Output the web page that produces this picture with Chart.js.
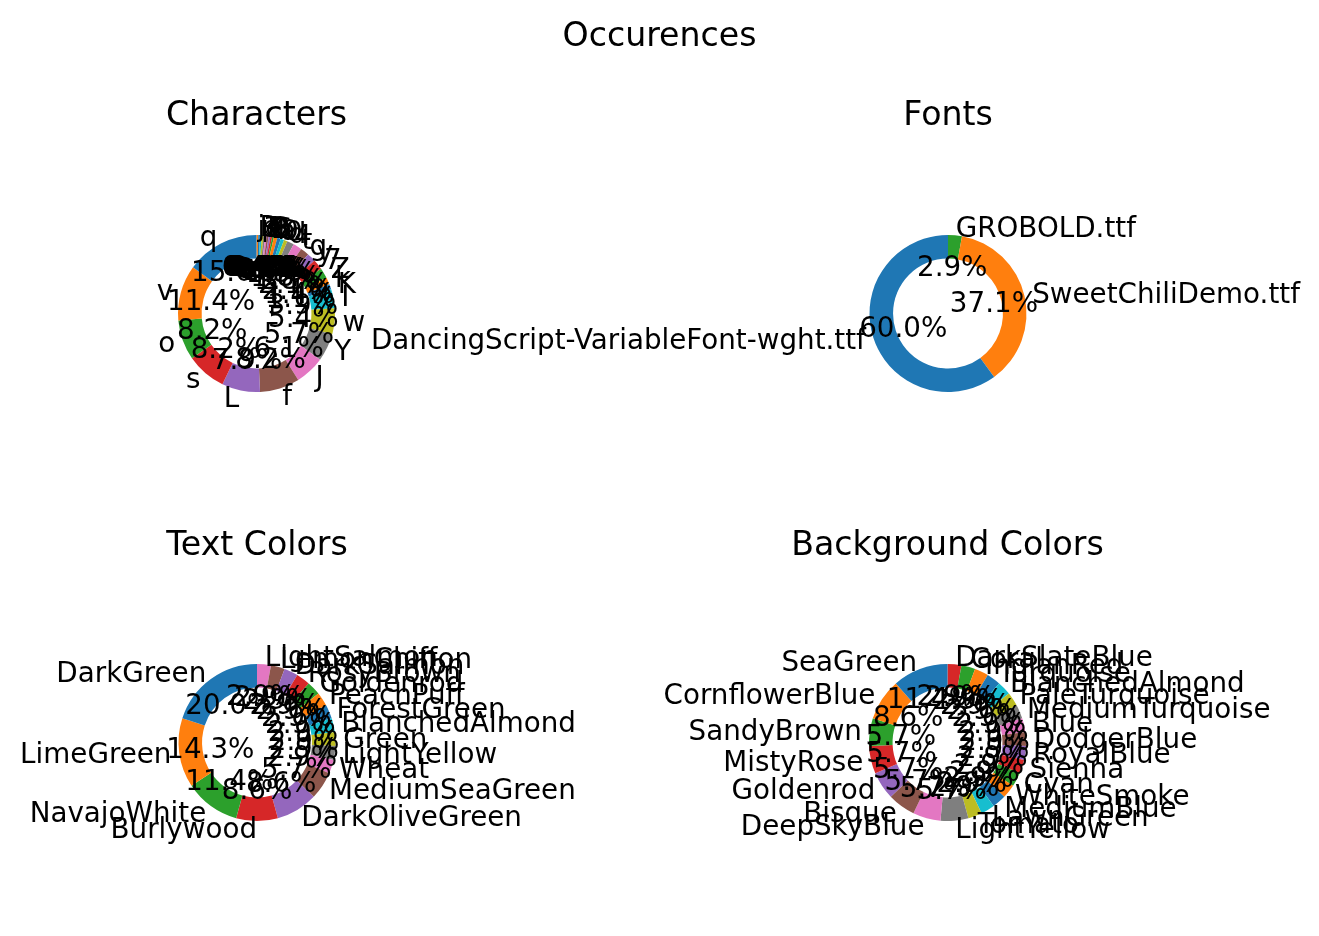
<!DOCTYPE html>
<html>
<head>
<meta charset="utf-8">
<script src="https://cdn.jsdelivr.net/npm/chart.js@4.4.1/dist/chart.umd.min.js"></script>
<style>
html,body{margin:0;padding:0;background:#ffffff;}
#wrap{position:relative;width:1319px;height:936px;overflow:hidden;}
canvas{position:absolute;left:0;top:0;}
</style>
</head>
<body>
<div id="wrap">
<canvas id="c0" width="1319" height="936"></canvas>
<canvas id="c1" width="1319" height="936"></canvas>
<canvas id="c2" width="1319" height="936"></canvas>
<canvas id="c3" width="1319" height="936"></canvas>
</div>
<script>
// ---------- data ----------
const suptitle = "Occurences";
const titles = ["Characters", "Fonts", "Text Colors", "Background Colors"];

const charLabels = ["q","v","o","s","L","f","J","Y","w","I",
  "K","k","Z","7","y","g","t","4","d","0","9","b",
  "6","8","B","C","D","e","3","p","R","j"];
const charCounts = [42,32,23,23,22,23,17,16,15,11,
  3,4,6,6,5,5,5,4,2,2,2,2,
  1,1,1,1,1,1,1,1,1,1];

const fontLabels = ["DancingScript-VariableFont-wght.ttf", "SweetChiliDemo.ttf", "GROBOLD.ttf"];
const fontCounts = [21, 13, 1];

const textColorLabels = ["DarkGreen","LimeGreen","NavajoWhite","Burlywood","DarkOliveGreen",
  "MediumSeaGreen","Wheat","LightYellow","Green","BlanchedAlmond","ForestGreen","PeachPuff",
  "Goldenrod","RosyBrown","DarkSalmon","LemonChiffon","LightSalmon"];
const textColorCounts = [7,5,4,3,3,2,1,1,1,1,1,1,1,1,1,1,1];

const bgColorLabels = ["SeaGreen","CornflowerBlue","SandyBrown","MistyRose","Goldenrod","Bisque",
  "DeepSkyBlue","LightYellow","Tomato","LawnGreen","MediumBlue","WhiteSmoke","Cyan","Sienna",
  "RoyalBlue","DodgerBlue","Blue","MediumTurquoise","PaleTurquoise","BlanchedAlmond","Turquoise",
  "IndianRed","Coral","DarkSlateBlue"];
const bgColorCounts = [4,3,2,2,2,2,2,2,1,1,1,1,1,1,1,1,1,1,1,1,1,1,1,1];

// ---------- style ----------
const tab10 = ["#1f77b4","#ff7f0e","#2ca02c","#d62728","#9467bd","#8c564b","#e377c2","#7f7f7f","#bcbd22","#17becf"];
const W = 1319, H = 936, R = 78.5;
const LABEL_PX = 27.75, TITLE_PX = 33.2;
const FONT = '"DejaVu Sans", "Liberation Sans", sans-serif';

const piePlugin = {
  id: 'mplPie',
  afterDraw(chart, args, opts) {
    const ctx = chart.ctx;
    const meta = chart.getDatasetMeta(0);
    const ds = chart.data.datasets[0].data;
    const total = ds.reduce((a, b) => a + b, 0);
    const labels = chart.data.labels;
    const off = 0.276 * LABEL_PX + 1.5;
    ctx.save();
    ctx.fillStyle = '#000';
    ctx.textBaseline = 'alphabetic';
    ctx.font = LABEL_PX + 'px ' + FONT;
    for (let k = meta.data.length - 1; k >= 0; k--) {
      const arc = meta.data[k];
      const p = arc.getProps(['x','y','startAngle','endAngle','outerRadius'], true);
      const mid = (p.startAngle + p.endAngle) / 2;
      const c = Math.cos(mid), s = Math.sin(mid);
      const lx = p.x + 1.1 * p.outerRadius * c;
      const ly = p.y + 1.1 * p.outerRadius * s;
      ctx.textAlign = c > 1e-9 ? 'left' : 'right';
      ctx.fillText(labels[k], lx, ly + off);
      const pct = (100 * ds[k] / total).toFixed(1) + '%';
      ctx.textAlign = 'center';
      ctx.fillText(pct, p.x + 0.6 * p.outerRadius * c, p.y + 0.6 * p.outerRadius * s + off);
    }
    const area = chart.chartArea;
    const cx = (area.left + area.right) / 2;
    ctx.font = TITLE_PX + 'px ' + FONT;
    ctx.textAlign = 'center';
    ctx.fillText(opts.title, cx, opts.titleY);
    if (opts.sup) {
      ctx.fillText(opts.sup, W / 2, 46);
    }
    ctx.restore();
  }
};

function makePie(id, labels, counts, cx, cy, title, titleY, sup) {
  const colors = counts.map((_, i) => tab10[i % 10]);
  return new Chart(document.getElementById(id), {
    type: 'doughnut',
    data: {
      labels: labels.slice().reverse(),
      datasets: [{
        data: counts.slice().reverse(),
        backgroundColor: colors.slice().reverse(),
        borderWidth: 0,
        hoverOffset: 0
      }]
    },
    options: {
      responsive: false,
      animation: false,
      devicePixelRatio: 1,
      cutout: '70%',
      rotation: 0,
      layout: { padding: { left: cx - R, right: W - cx - R, top: cy - R, bottom: H - cy - R } },
      plugins: {
        legend: { display: false },
        tooltip: { enabled: false },
        mplPie: { title: title, titleY: titleY, sup: sup }
      },
      events: []
    },
    plugins: [piePlugin]
  });
}

makePie('c0', charLabels, charCounts, 256.5, 313.5, titles[0], 125, suptitle);
makePie('c1', fontLabels, fontCounts, 948, 313.5, titles[1], 125, null);
makePie('c2', textColorLabels, textColorCounts, 257, 742.5, titles[2], 555, null);
makePie('c3', bgColorLabels, bgColorCounts, 947.5, 742.5, titles[3], 555, null);
</script>
</body>
</html>
